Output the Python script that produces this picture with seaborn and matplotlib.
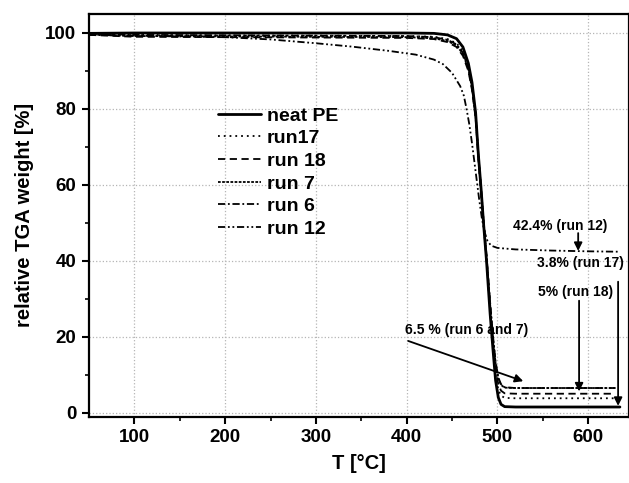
import numpy as np
import pandas as pd
import matplotlib
matplotlib.use("Agg")
import matplotlib.pyplot as plt
import seaborn as sns

# TGA curves: temperature [°C] and relative weight [%]
neat_pe_T = [50, 100, 200, 300, 400, 430, 445, 455, 462, 468, 472, 476, 479, 482, 485, 488,
             492, 495, 498, 501, 504, 508, 520, 600, 635]
neat_pe_w = [99.9, 100.0, 100.0, 100.0, 100.0, 99.9, 99.5, 98.5, 96.3, 92.0, 87.0, 79.0, 68.0,
             59.0, 49.0, 40.0, 26.0, 17.0, 8.5, 4.0, 2.2, 1.6, 1.5, 1.5, 1.5]

run17_T = [50, 100, 200, 300, 400, 430, 445, 455, 462, 468, 472, 476, 479, 482, 485, 488,
           492, 495, 498, 501, 504, 508, 520, 600, 632]
run17_w = [99.7, 99.4, 99.3, 99.3, 99.2, 99.0, 98.4, 97.3, 95.2, 91.0, 86.0, 78.5, 68.0,
           59.0, 49.5, 40.5, 27.0, 18.0, 10.0, 6.0, 4.5, 3.9, 3.8, 3.8, 3.8]

run18_T = [50, 100, 200, 300, 400, 430, 445, 455, 462, 468, 472, 476, 479, 482, 485, 488,
           492, 495, 498, 501, 504, 508, 520, 600, 630]
run18_w = [99.5, 99.0, 98.9, 98.8, 98.7, 98.4, 97.6, 96.3, 94.0, 90.0, 85.0, 77.5, 67.0,
           58.0, 49.0, 40.5, 27.5, 19.0, 11.5, 7.5, 5.8, 5.1, 5.0, 5.0, 5.0]

run7_T = [50, 100, 200, 300, 400, 430, 445, 455, 462, 468, 472, 476, 479, 482, 485, 488,
          492, 495, 498, 501, 504, 508, 520, 600, 630]
run7_w = [99.6, 99.2, 99.1, 99.0, 98.9, 98.6, 97.9, 96.7, 94.5, 90.5, 85.5, 78.0, 67.5,
          58.5, 49.5, 41.0, 28.5, 20.0, 13.0, 9.0, 7.3, 6.6, 6.5, 6.5, 6.5]

run6_T = [50, 100, 200, 300, 400, 430, 445, 455, 462, 468, 472, 476, 479, 482, 485, 488,
          492, 495, 498, 501, 504, 508, 520, 600, 630]
run6_w = [99.8, 99.5, 99.4, 99.3, 99.2, 98.9, 98.2, 97.0, 94.8, 90.8, 86.0, 78.5, 68.0,
          59.0, 50.0, 41.5, 29.0, 20.5, 13.5, 9.3, 7.5, 6.7, 6.5, 6.5, 6.5]

run12_T = [50, 100, 200, 250, 300, 340, 380, 410, 430, 440, 450, 459, 463, 466, 469, 472,
           476, 480, 483, 486, 489, 493, 500, 520, 560, 600, 633]
run12_w = [99.5, 99.3, 98.9, 98.3, 97.3, 96.4, 95.3, 94.3, 93.0, 91.8, 89.5, 86.0, 83.5,
           80.0, 76.0, 71.0, 63.5, 56.0, 51.0, 47.5, 45.3, 44.0, 43.4, 43.0, 42.7, 42.5, 42.4]

series = [
    ("neat PE", neat_pe_T, neat_pe_w, "-", 2.0),
    ("run17", run17_T, run17_w, (0, (1.0, 2.2)), 1.3),
    ("run 18", run18_T, run18_w, (0, (4.0, 2.5)), 1.3),
    ("run 7", run7_T, run7_w, (0, (1.5, 0.8)), 1.3),
    ("run 6", run6_T, run6_w, (0, (4.0, 1.5, 1.0, 1.5)), 1.3),
    ("run 12", run12_T, run12_w, (0, (4.0, 1.5, 1.0, 1.5, 1.0, 1.5)), 1.3),
]

sns.set_style("ticks")
plt.rcParams["font.family"] = ["Liberation Sans", "DejaVu Sans"]
plt.rcParams["font.weight"] = "bold"
plt.rcParams["text.color"] = "black"
plt.rcParams["axes.labelcolor"] = "black"
plt.rcParams["xtick.color"] = "black"
plt.rcParams["ytick.color"] = "black"

fig = plt.figure(figsize=(6.29, 4.83), dpi=100)
ax = fig.add_axes([89 / 629, 66.5 / 483, 540 / 629, 402.5 / 483])

for name, T, w, ls, lw in series:
    df = pd.DataFrame({"T": T, "w": w})
    sns.lineplot(data=df, x="T", y="w", ax=ax, color="black", linestyle=ls,
                 linewidth=lw, label=name, sort=False)

ax.set_xlim(50, 645)
ax.set_ylim(-1, 105)
ax.set_xticks([100, 200, 300, 400, 500, 600])
ax.set_xticks(np.arange(150, 650, 100), minor=True)
ax.set_yticks([0, 20, 40, 60, 80, 100])
ax.set_yticks([10, 30, 50, 70, 90], minor=True)
ax.grid(True, which="major", linestyle=":", color="#b5b5b5", linewidth=0.9)
ax.tick_params(axis="both", which="major", direction="out", length=5, width=1.5,
               labelsize=13.5, color="black", labelcolor="black", pad=4)
ax.tick_params(axis="both", which="minor", direction="out", length=3, width=1.2,
               color="black")
for lab in ax.get_xticklabels() + ax.get_yticklabels():
    lab.set_fontweight("bold")
for sp in ax.spines.values():
    sp.set_linewidth(1.6)
    sp.set_color("black")

ax.set_xlabel("T [°C]", fontsize=14.5, fontweight="bold", labelpad=6, color="black")
ax.set_ylabel("relative TGA weight [%]", fontsize=14.5, fontweight="bold", labelpad=8,
              color="black")

leg = ax.legend(loc="upper left", bbox_to_anchor=(218 / 629, 1 - 107 / 483),
                bbox_transform=fig.transFigure, frameon=False, fontsize=14,
                handlelength=2.2, handletextpad=0.3, labelspacing=0.26,
                borderpad=0, borderaxespad=0)
for t in leg.get_texts():
    t.set_fontweight("bold")
    t.set_color("black")

arrow = dict(arrowstyle="-|>", color="black", lw=1.3, mutation_scale=12,
             shrinkA=0, shrinkB=0)
txt = dict(fontsize=10, fontweight="bold", ha="center", va="center", color="black")

ax.annotate("", xy=(589, 42.6), xytext=(589, 47.3), arrowprops=arrow)
ax.text(569, 49.3, "42.4% (run 12)", **txt)

ax.annotate("", xy=(633, 1.8), xytext=(633, 34.5), arrowprops=arrow)
ax.text(592, 39.3, "3.8% (run 17)", **txt)

ax.annotate("", xy=(590, 5.6), xytext=(590, 29.5), arrowprops=arrow)
ax.text(586, 31.7, "5% (run 18)", **txt)

ax.annotate("", xy=(528.5, 8.3), xytext=(401.7, 18.9), arrowprops=arrow)
ax.text(466, 21.7, "6.5 % (run 6 and 7)", **txt)

fig.savefig("out.png", dpi=100)
